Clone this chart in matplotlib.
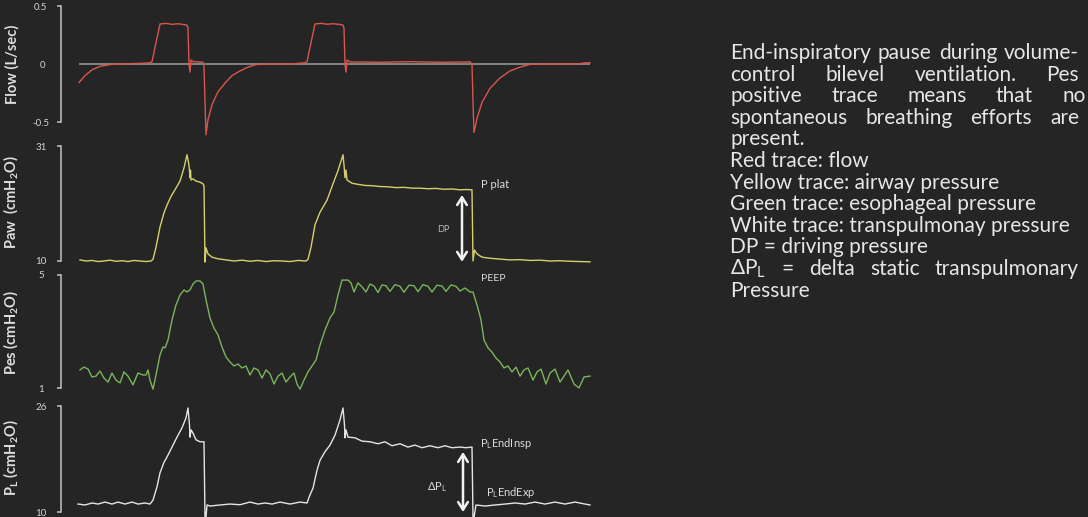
import matplotlib
matplotlib.use("Agg")
import matplotlib.pyplot as plt

plt.rcParams['font.family'] = ['Lato', 'DejaVu Sans']
plt.rcParams['mathtext.default'] = 'regular'

# ---------------- data (time in s) ----------------
flow_t = [0, 0.12, 0.26, 0.42, 0.62, 0.82, 1.22, 1.42, 1.46, 1.62,
          1.74, 1.86, 1.98, 2.10, 2.16, 2.18, 2.20, 2.22, 2.24, 2.28,
          2.38, 2.48, 2.50, 2.52, 2.54, 2.58, 2.66, 2.78, 2.92, 3.06,
          3.22, 3.38, 3.54, 3.82, 4.22, 4.52, 4.56, 4.72, 4.84, 4.96,
          5.08, 5.20, 5.28, 5.30, 5.32, 5.34, 5.36, 5.42, 6.02, 6.62,
          7.22, 7.82, 7.86, 7.88, 7.90, 7.96, 8.06, 8.22, 8.42, 8.62,
          8.82, 9.02, 9.62, 10.02, 10.10, 10.22]
flow_v = [-0.16, -0.10, -0.05, -0.02, -0.005, 0.0, 0.005, 0.01, 0.02, 0.345,
          0.35, 0.342, 0.347, 0.34, 0.335, 0.31, 0.0, -0.07, 0.035, 0.02,
          0.018, 0.015, -0.02, -0.33, -0.61, -0.48, -0.35, -0.24, -0.165, -0.10,
          -0.06, -0.027, -0.005, 0.0, 0.0, 0.01, 0.02, 0.345, 0.35, 0.343,
          0.347, 0.342, 0.336, 0.31, 0.0, -0.07, 0.035, 0.018, 0.015, 0.02,
          0.015, 0.018, 0.0, -0.33, -0.59, -0.47, -0.33, -0.21, -0.12, -0.06,
          -0.027, -0.003, 0.0, 0.002, 0.01, 0.01]

paw_t = [0.02, 0.14, 0.26, 0.38, 0.50, 0.62, 0.74, 0.86, 0.98, 1.10,
         1.22, 1.34, 1.44, 1.48, 1.54, 1.62, 1.70, 1.76, 1.84, 1.92,
         2.02, 2.10, 2.16, 2.20, 2.22, 2.23, 2.24, 2.28, 2.34, 2.42,
         2.48, 2.50, 2.52, 2.54, 2.58, 2.66, 2.78, 2.94, 3.10, 3.26,
         3.42, 3.58, 3.74, 3.90, 4.06, 4.22, 4.38, 4.54, 4.58, 4.64,
         4.72, 4.82, 4.96, 5.08, 5.18, 5.28, 5.30, 5.32, 5.34, 5.36,
         5.46, 5.58, 5.72, 5.86, 6.02, 6.18, 6.34, 6.50, 6.66, 6.82,
         6.98, 7.14, 7.30, 7.46, 7.62, 7.74, 7.86, 7.88, 7.91, 7.96,
         8.06, 8.22, 8.42, 8.62, 8.82, 9.02, 9.22, 9.42, 9.62, 9.82,
         10.02, 10.22]
paw_v = [10.2, 10.0, 10.1, 9.9, 10.0, 10.15, 9.95, 10.05, 9.9, 10.1,
         10.0, 9.9, 10.0, 10.3, 12.5, 16.2, 18.8, 20.2, 21.8, 23.0,
         24.6, 27.0, 29.4, 27.5, 25.2, 26.6, 24.8, 25.0, 24.6, 24.4,
         24.1, 23.7, 9.8, 12.4, 11.3, 10.7, 10.4, 10.2, 10.0, 10.15,
         9.95, 10.1, 9.9, 10.05, 10.0, 9.9, 10.1, 10.0, 10.3, 12.5,
         16.6, 18.9, 21.1, 24.1, 26.5, 29.4, 27.5, 25.2, 26.6, 24.8,
         24.2, 24.0, 23.8, 23.75, 23.6, 23.55, 23.4, 23.45, 23.3, 23.3,
         23.2, 23.25, 23.1, 23.15, 23.0, 23.05, 23.0, 10.0, 12.0, 11.3,
         10.7, 10.5, 10.35, 10.2, 10.25, 10.1, 10.15, 10.0, 10.05, 9.95,
         9.9, 9.85]

pes_t = [0.02, 0.10, 0.18, 0.26, 0.34, 0.42, 0.50, 0.58, 0.66, 0.74,
         0.82, 0.90, 0.98, 1.08, 1.18, 1.28, 1.34, 1.38, 1.42, 1.48,
         1.54, 1.62, 1.68, 1.72, 1.78, 1.86, 1.94, 2.02, 2.10, 2.16,
         2.22, 2.28, 2.34, 2.42, 2.48, 2.54, 2.62, 2.70, 2.78, 2.86,
         2.94, 3.02, 3.10, 3.18, 3.26, 3.34, 3.42, 3.50, 3.58, 3.66,
         3.74, 3.82, 3.90, 3.98, 4.06, 4.14, 4.22, 4.30, 4.36, 4.42,
         4.50, 4.58, 4.66, 4.74, 4.82, 4.92, 5.02, 5.10, 5.18, 5.26,
         5.38, 5.44, 5.50, 5.58, 5.66, 5.74, 5.82, 5.90, 5.98, 6.06,
         6.14, 6.22, 6.32, 6.42, 6.50, 6.60, 6.70, 6.78, 6.88, 6.98,
         7.06, 7.16, 7.26, 7.34, 7.44, 7.54, 7.62, 7.72, 7.82, 7.88,
         7.96, 8.04, 8.10, 8.18, 8.26, 8.34, 8.42, 8.50, 8.58, 8.66,
         8.74, 8.82, 8.90, 8.98, 9.08, 9.16, 9.24, 9.34, 9.42, 9.52,
         9.62, 9.70, 9.78, 9.90, 10.00, 10.10, 10.22]
pes_v = [1.64, 1.74, 1.67, 1.39, 1.42, 1.60, 1.35, 1.21, 1.53, 1.28,
         1.18, 1.57, 1.42, 1.11, 1.53, 1.46, 1.46, 1.64, 1.28, 0.96,
         1.46, 2.17, 2.45, 2.42, 2.70, 3.41, 3.94, 4.29, 4.47, 4.40,
         4.47, 4.68, 4.79, 4.79, 4.68, 4.12, 3.48, 3.12, 2.88, 2.45,
         2.10, 1.92, 1.78, 1.85, 1.71, 1.78, 1.46, 1.71, 1.64, 1.35,
         1.64, 1.50, 1.14, 1.42, 1.53, 1.21, 1.39, 1.53, 1.14, 0.96,
         1.28, 1.57, 1.78, 1.99, 2.52, 3.05, 3.48, 3.69, 4.29, 4.82,
         4.82, 4.72, 4.40, 4.72, 4.58, 4.40, 4.68, 4.61, 4.38, 4.65,
         4.62, 4.42, 4.66, 4.60, 4.39, 4.64, 4.62, 4.41, 4.66, 4.60,
         4.40, 4.64, 4.61, 4.42, 4.65, 4.60, 4.43, 4.54, 4.40, 4.40,
         3.94, 3.41, 2.70, 2.42, 2.27, 2.06, 1.92, 1.71, 1.78, 1.57,
         1.74, 1.42, 1.64, 1.71, 1.28, 1.57, 1.67, 1.14, 1.53, 1.67,
         1.21, 1.42, 1.64, 1.14, 1.00, 1.39, 1.42]

pl_t = [-0.02, 0.12, 0.26, 0.38, 0.52, 0.66, 0.78, 0.92, 1.06, 1.18,
        1.32, 1.42, 1.48, 1.56, 1.62, 1.70, 1.76, 1.86, 1.96, 2.06,
        2.14, 2.18, 2.21, 2.22, 2.24, 2.28, 2.34, 2.42, 2.50, 2.52,
        2.54, 2.56, 2.62, 2.82, 3.02, 3.22, 3.42, 3.58, 3.72, 3.86,
        4.02, 4.22, 4.42, 4.56, 4.62, 4.68, 4.76, 4.82, 4.92, 5.02,
        5.12, 5.22, 5.28, 5.31, 5.32, 5.34, 5.38, 5.52, 5.66, 5.82,
        5.98, 6.12, 6.26, 6.42, 6.58, 6.72, 6.86, 7.02, 7.18, 7.32,
        7.46, 7.62, 7.74, 7.86, 7.88, 7.90, 7.94, 8.12, 8.32, 8.52,
        8.72, 8.92, 9.12, 9.32, 9.52, 9.72, 9.92, 10.12, 10.22]
pl_v = [11.2, 11.06, 11.36, 11.2, 11.5, 11.2, 11.5, 11.2, 11.5, 11.2,
        11.36, 11.2, 11.8, 13.8, 15.9, 17.5, 18.3, 19.8, 21.3, 22.7,
        24.2, 25.7, 23.1, 21.3, 22.4, 21.9, 20.9, 20.6, 20.6, 9.2,
        9.2, 11.06, 10.9, 11.06, 11.2, 11.1, 11.5, 11.2, 11.36, 11.2,
        11.5, 11.2, 11.5, 11.36, 12.6, 13.6, 16.3, 17.8, 19.1, 20.1,
        21.6, 23.9, 25.7, 23.1, 21.2, 22.4, 21.3, 21.2, 20.7, 20.6,
        20.3, 20.6, 20.0, 20.3, 19.8, 20.1, 19.7, 20.0, 19.7, 20.0,
        19.7, 19.8, 19.7, 19.8, 9.2, 9.2, 11.06, 10.9, 11.06, 11.2,
        11.36, 11.2, 11.5, 11.2, 11.5, 11.2, 11.5, 11.2, 11.06]

flow_ticks = [-0.5, 0.5]
paw_ticks = [10, 31]
pes_ticks = [1, 5]
pl_ticks = [10, 26]

ylabels = ['Flow (L/sec)', 'Paw  (cmH$_2$O)', 'Pes (cmH$_2$O)', 'P$_L$ (cmH$_2$O)']

text_lines = ['End-inspiratory pause during volume-',
              'control bilevel ventilation. Pes',
              'positive trace means that no',
              'spontaneous breathing efforts are',
              'present.',
              'Red trace: flow',
              'Yellow trace: airway pressure',
              'Green trace: esophageal pressure',
              'White trace: transpulmonay pressure',
              'DP = driving pressure',
              '\u0394P$_L$ = delta static transpulmonary',
              'Pressure']

# ---------------- styling ----------------
BG = '#252525'
AXC = '#c4c4c4'
TXC = '#d4d4d4'
C_FLOW = '#d8564b'
C_PAW = '#d7cf6c'
C_PES = '#79b55a'
C_PL = '#e4e4e4'
C_ZERO = '#9c9c9c'

W, H = 1088, 517
fig = plt.figure(figsize=(W / 100, H / 100), dpi=100, facecolor=BG)

X0, X1 = 61, 600
XLIM = ((X0 - 79) * 0.02, (X1 - 79) * 0.02)


def make_axes(top, bot, v1, p1, v2, p2):
    ax = fig.add_axes([X0 / W, 1 - bot / H, (X1 - X0) / W, (bot - top) / H])
    def val(p):
        return v2 + (p2 - p) * (v1 - v2) / (p2 - p1)
    ax.set_ylim(val(bot), val(top))
    ax.set_xlim(*XLIM)
    ax.set_facecolor('none')
    return ax


ax_flow = make_axes(0, 137, 0.5, 6, -0.5, 122)
ax_paw = make_axes(137, 268, 31, 146, 10, 261)
ax_pes = make_axes(268, 396, 5, 275, 1, 388)
ax_pl = make_axes(396, 517, 26, 406, 10, 512)

label_y = [64, 202, 332, 458]
panels = [(ax_flow, flow_ticks, 0, 137), (ax_paw, paw_ticks, 137, 268),
          (ax_pes, pes_ticks, 268, 396), (ax_pl, pl_ticks, 396, 517)]

for (ax, ticks, top, bot), lab, ly in zip(panels, ylabels, label_y):
    for s in ['top', 'right', 'bottom']:
        ax.spines[s].set_visible(False)
    ax.spines['left'].set_bounds(ticks[0], ticks[-1])
    ax.spines['left'].set_color(AXC)
    ax.spines['left'].set_linewidth(1.1)
    ax.set_xticks([])
    ax.set_yticks(ticks, [f'{v:g}' for v in ticks])
    ax.tick_params(axis='y', which='major', direction='out', length=3, width=1.1,
                   color=AXC, labelcolor=TXC, labelsize=7, pad=11.5)
    for tl in ax.get_yticklabels():
        tl.set_ha('center')
    ax.set_ylabel(lab, color='#dedede', fontsize=10.5, fontweight='bold')
    ax.yaxis.set_label_coords((20 - X0) / (X1 - X0), 1 - (ly - top) / (bot - top))

ax_flow.set_yticks([0], ['0'], minor=True)
ax_flow.tick_params(axis='y', which='minor', length=0, labelcolor=TXC, labelsize=7, pad=13)
for tl in ax_flow.get_yticklabels(minor=True):
    tl.set_ha('center')

# traces
ax_flow.hlines(0, flow_t[0], flow_t[-1], color=C_ZERO, lw=1.1, zorder=1)
ax_flow.plot(flow_t, flow_v, color=C_FLOW, lw=1.0, clip_on=False, zorder=2)
ax_paw.plot(paw_t, paw_v, color=C_PAW, lw=1.0, clip_on=False)
ax_pes.plot(pes_t, pes_v, color=C_PES, lw=1.0, clip_on=False)
ax_pl.plot(pl_t, pl_v, color=C_PL, lw=1.0, clip_on=False)

# annotations
ARW = dict(arrowstyle='<->,head_length=0.55,head_width=0.35', color='#f2f2f2',
           lw=1.8, shrinkA=0, shrinkB=0)
ax_paw.annotate('', xy=(7.66, 22.05), xytext=(7.66, 9.85), arrowprops=ARW)
ax_paw.text(8.04, 23.9, 'P plat', color='#dcdcdc', fontsize=8, va='center', ha='left')
ax_paw.text(7.28, 15.84, 'DP', color='#bdbdbd', fontsize=6.5, va='center', ha='center')
ax_pes.text(8.04, 4.86, 'PEEP', color='#dcdcdc', fontsize=7.5, va='center', ha='left')
ax_pl.annotate('', xy=(7.68, 19.06), xytext=(7.68, 10.0), arrowprops=ARW, annotation_clip=False)
ax_pl.text(8.02, 20.4, 'P$_L$EndInsp', color='#dcdcdc', fontsize=8, va='center', ha='left')
ax_pl.text(7.16, 13.77, '\u0394P$_L$', color='#dcdcdc', fontsize=8, va='center', ha='center')
ax_pl.text(8.14, 12.87, 'P$_L$EndExp', color='#dcdcdc', fontsize=8, va='center', ha='left')

# ---------------- right text block ----------------
fig.canvas.draw()
rend = fig.canvas.get_renderer()


def text_width(s, fs):
    t = fig.text(0, 0, s, fontsize=fs)
    w = t.get_window_extent(rend).width
    t.remove()
    return w


FS = 12 * 338 / text_width('White trace: transpulmonay pressure', 12)
LEFT = 730
justify_right = {0: 1079, 1: 1079, 2: 1086, 3: 1079, 10: 1079}
TCOL = '#e6e6e6'
for i, line in enumerate(text_lines):
    yb = 59 + 21.6 * i
    yf = 1 - yb / H
    if i in justify_right:
        words = line.split(' ')
        widths = [text_width(w, FS) for w in words]
        gap = (justify_right[i] - LEFT - sum(widths)) / (len(words) - 1)
        x = LEFT
        for w, wd in zip(words, widths):
            fig.text(x / W, yf, w, fontsize=FS, color=TCOL, va='baseline', ha='left')
            x += wd + gap
    else:
        fig.text(LEFT / W, yf, line, fontsize=FS, color=TCOL, va='baseline', ha='left')

fig.savefig('out.png', dpi=100, facecolor=BG)
